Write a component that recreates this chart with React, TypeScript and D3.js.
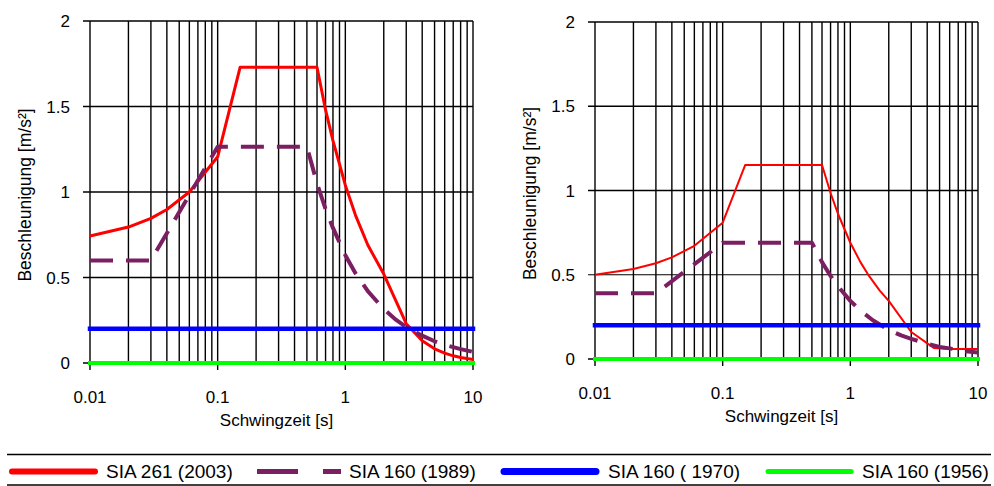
import React from "react";
import * as d3 from "d3";

// ---------- data ----------
const periodTickValues = [0.01, 0.1, 1, 10];
const periodTickLabels = ["0.01", "0.1", "1", "10"];
const accelTickValues = [0, 0.5, 1, 1.5, 2];
const accelTickLabels = ["0", "0.5", "1", "1.5", "2"];

const seriesNames = ["SIA 261 (2003)", "SIA 160 (1989)", "SIA 160 ( 1970)", "SIA 160 (1956)"];

// left panel
const leftSia261T = [0.01, 0.02, 0.03, 0.04, 0.06, 0.1, 0.15, 0.6, 0.7, 0.8, 1, 1.2, 1.5, 2, 3, 4, 5, 6, 7, 8, 10];
const leftSia261A = [0.743, 0.795, 0.846, 0.898, 1.0, 1.206, 1.73, 1.73, 1.48, 1.3, 1.04, 0.865, 0.69, 0.52, 0.23, 0.13, 0.083, 0.058, 0.042, 0.032, 0.021];
const leftSia160_1989T = [0.01, 0.03, 0.1, 0.5, 0.6, 0.7, 0.8, 1, 1.2, 1.5, 2, 2.5, 3, 4, 5, 6, 8, 10];
const leftSia160_1989A = [0.6, 0.6, 1.265, 1.265, 1.05, 0.9, 0.79, 0.63, 0.525, 0.42, 0.315, 0.252, 0.21, 0.16, 0.127, 0.106, 0.081, 0.065];
const leftSia160_1970T = [0.01, 10];
const leftSia160_1970A = [0.2, 0.2];
const leftSia160_1956T = [0.01, 10];
const leftSia160_1956A = [0, 0];

// right panel
const rightSia261T = [0.01, 0.02, 0.03, 0.04, 0.06, 0.1, 0.15, 0.6, 0.7, 0.8, 1, 1.2, 1.4, 1.7, 2, 3, 4.5, 6, 10];
const rightSia261A = [0.5, 0.534, 0.568, 0.603, 0.672, 0.809, 1.151, 1.151, 0.985, 0.862, 0.69, 0.575, 0.493, 0.406, 0.345, 0.16, 0.066, 0.06, 0.06];
const rightSia160_1989T = [0.01, 0.03, 0.1, 0.5, 0.6, 0.7, 0.8, 1, 1.2, 1.5, 2, 2.5, 3, 4, 5, 6, 8, 10];
const rightSia160_1989A = [0.39, 0.39, 0.69, 0.69, 0.575, 0.493, 0.431, 0.345, 0.288, 0.23, 0.173, 0.14, 0.12, 0.09, 0.072, 0.063, 0.046, 0.038];
const rightSia160_1970T = [0.01, 10];
const rightSia160_1970A = [0.2, 0.2];
const rightSia160_1956T = [0.01, 10];
const rightSia160_1956A = [0, 0];

const xTitle = "Schwingzeit [s]";
const yTitle = "Beschleunigung [m/s²]";

// ---------- styles ----------
const FONT = "'Liberation Sans', Arial, sans-serif";
const RED = "#ff0000";
const PURPLE = "#7b1f62";
const BLUE = "#0000ff";
const GREEN = "#00ff00";

type Pt = { t: number; a: number };
const zip = (t: number[], a: number[]): Pt[] => t.map((v, i) => ({ t: v, a: a[i] }));

type PanelProps = {
  x0: number;
  x1: number;
  yTop: number;
  yBottom: number;
  red: Pt[];
  purple: Pt[];
  blue: Pt[];
  green: Pt[];
  redWidth: number;
  thinHalf?: boolean;
};

function Panel({ x0, x1, yTop, yBottom, red, purple, blue, green, redWidth, thinHalf }: PanelProps) {
  const x = d3.scaleLog().domain([0.01, 10]).range([x0, x1]);
  const y = d3.scaleLinear().domain([0, 2]).range([yBottom, yTop]);
  const line = d3
    .line<Pt>()
    .x((d) => x(d.t))
    .y((d) => y(d.a));
  const minor = x.ticks();
  return (
    <g>
      {/* vertical grid */}
      {minor.map((v, i) => (
        <line key={"v" + i} x1={x(v)} x2={x(v)} y1={yTop} y2={yBottom} stroke="#000" strokeWidth={1.4} />
      ))}
      {/* x ticks */}
      {periodTickValues.map((v, i) => (
        <line key={"xt" + i} x1={x(v)} x2={x(v)} y1={yBottom} y2={yBottom + 7} stroke="#000" strokeWidth={1.4} />
      ))}
      {/* horizontal grid */}
      {accelTickValues.map((v, i) => (
        <line
          key={"h" + i}
          x1={x0 - 7}
          x2={x1}
          y1={y(v)}
          y2={y(v)}
          stroke="#000"
          strokeWidth={thinHalf && v === 0.5 ? 1 : 1.4}
        />
      ))}
      {/* y tick labels */}
      {accelTickValues.map((v, i) => (
        <text
          key={"yl" + i}
          x={x0 - 20}
          y={y(v)}
          dy="0.36em"
          textAnchor="end"
          fontFamily={FONT}
          fontSize={17}
          fill="#000"
        >
          {accelTickLabels[i]}
        </text>
      ))}
      {/* x tick labels */}
      {periodTickValues.map((v, i) => (
        <text
          key={"xl" + i}
          x={x(v)}
          y={yBottom + 40}
          textAnchor="middle"
          fontFamily={FONT}
          fontSize={17}
          fill="#000"
        >
          {periodTickLabels[i]}
        </text>
      ))}
      <text
        x={(x0 + x1) / 2 - 5}
        y={yBottom + 63}
        textAnchor="middle"
        fontFamily={FONT}
        fontSize={17}
        fill="#000"
      >
        {xTitle}
      </text>
      <text
        transform={`translate(${x0 - 65},${(yTop + yBottom) / 2 + 3}) rotate(-90)`}
        textAnchor="middle"
        dy="0.36em"
        fontFamily={FONT}
        fontSize={17.5}
        fill="#000"
      >
        {yTitle}
      </text>
      {/* series */}
      <path d={line(red) || ""} fill="none" stroke={RED} strokeWidth={redWidth} strokeLinejoin="round" />
      <path
        d={line(purple) || ""}
        fill="none"
        stroke={PURPLE}
        strokeWidth={4}
        strokeDasharray="23 13"
        strokeLinejoin="round"
      />
      <path d={line(blue) || ""} fill="none" stroke={BLUE} strokeWidth={4.5} strokeLinecap="square" />
      <path d={line(green) || ""} fill="none" stroke={GREEN} strokeWidth={4} strokeLinecap="square" />
    </g>
  );
}

function Legend() {
  const cy = 471.5;
  const fs = 19;
  return (
    <g>
      <line x1={7} x2={991} y1={454.5} y2={454.5} stroke="#000" strokeWidth={1.5} />
      <line x1={7} x2={991} y1={485} y2={485} stroke="#000" strokeWidth={1.5} />
      <line x1={12} x2={95} y1={cy} y2={cy} stroke={RED} strokeWidth={6} strokeLinecap="round" />
      <text x={106} y={cy} dy="0.36em" fontFamily={FONT} fontSize={fs}>{seriesNames[0]}</text>
      <line x1={257} x2={298} y1={cy} y2={cy} stroke={PURPLE} strokeWidth={5} />
      <line x1={323} x2={341} y1={cy} y2={cy} stroke={PURPLE} strokeWidth={5} />
      <text x={349} y={cy} dy="0.36em" fontFamily={FONT} fontSize={fs}>{seriesNames[1]}</text>
      <line x1={504} x2={596} y1={cy} y2={cy} stroke={BLUE} strokeWidth={7} strokeLinecap="round" />
      <text x={608} y={cy} dy="0.36em" fontFamily={FONT} fontSize={fs}>{seriesNames[2]}</text>
      <line x1={768} x2={851} y1={cy} y2={cy} stroke={GREEN} strokeWidth={5} strokeLinecap="round" />
      <text x={862} y={cy} dy="0.36em" fontFamily={FONT} fontSize={fs}>{seriesNames[3]}</text>
    </g>
  );
}

export default function App() {
  return (
    <svg
      width={994}
      height={486}
      style={{ position: "absolute", left: 0, top: 0, background: "#fff", display: "block" }}
    >
      <rect x={0} y={0} width={994} height={486} fill="#fff" />
      <Panel
        x0={90}
        x1={473}
        yTop={21}
        yBottom={363}
        red={zip(leftSia261T, leftSia261A)}
        purple={zip(leftSia160_1989T, leftSia160_1989A)}
        blue={zip(leftSia160_1970T, leftSia160_1970A)}
        green={zip(leftSia160_1956T, leftSia160_1956A)}
        redWidth={3}
      />
      <Panel
        x0={595}
        x1={978}
        yTop={22}
        yBottom={359}
        red={zip(rightSia261T, rightSia261A)}
        purple={zip(rightSia160_1989T, rightSia160_1989A)}
        blue={zip(rightSia160_1970T, rightSia160_1970A)}
        green={zip(rightSia160_1956T, rightSia160_1956A)}
        redWidth={2}
        thinHalf
      />
      <Legend />
    </svg>
  );
}
